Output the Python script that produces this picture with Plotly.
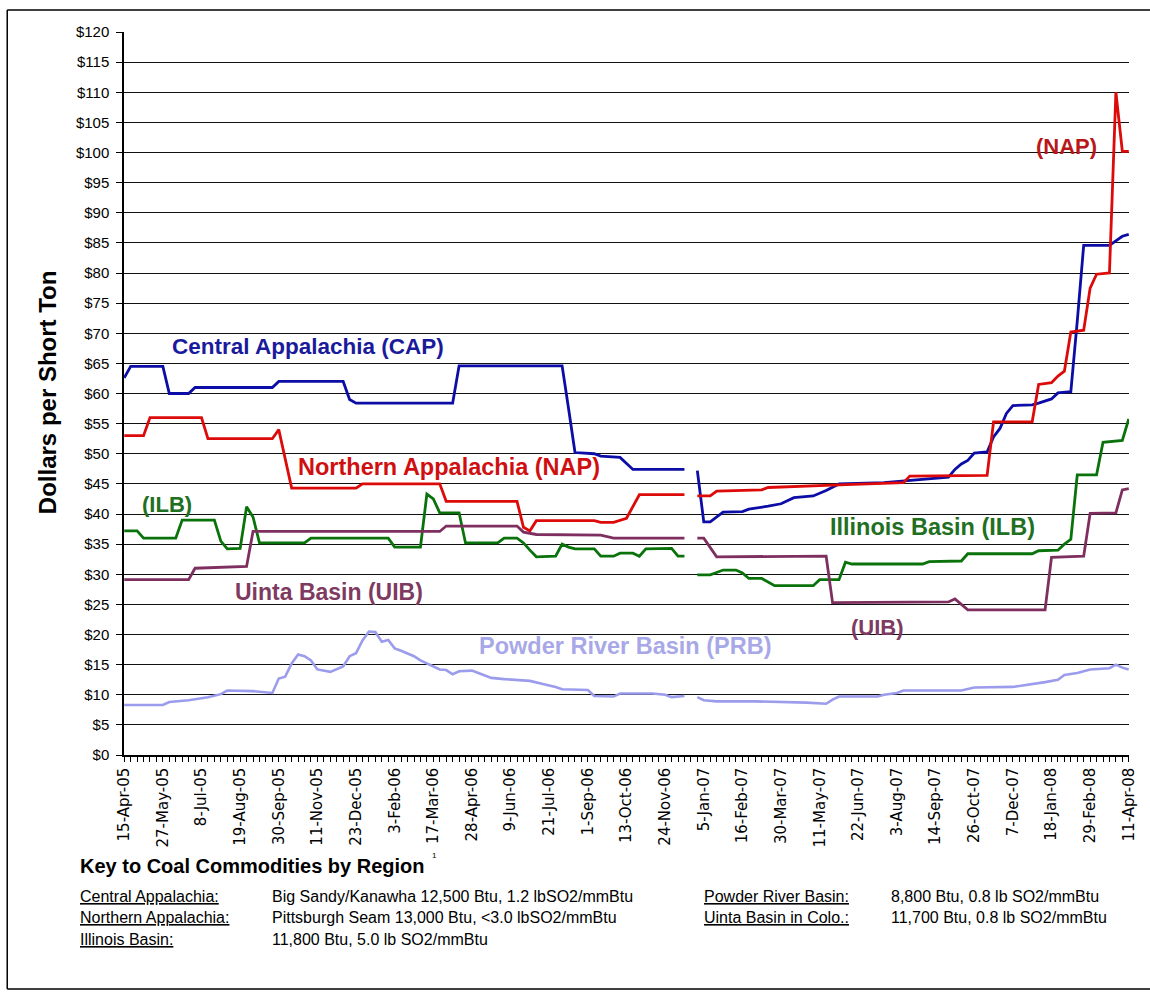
import pandas as pd
import plotly.graph_objects as go

# ---- categories: weekly price dates ----
weeks = pd.date_range("2005-04-15", periods=157, freq="7D")

# ---- series: (week index, $/short ton) vertices ----
cap_wk = [0, 1, 6, 7, 10, 11, 23, 24, 34, 35, 36, 51, 52, 68, 69, 70, 73, 74, 77, 79,
          87, 88, 89, 90, 91, 93, 96, 97, 100, 102, 104, 107, 109, 111, 118, 122, 128, 129, 130, 131,
          132, 134, 135, 136, 137, 138, 141, 142, 144, 145, 147, 148, 149, 153, 154, 155, 156]
cap_val = [62.6, 64.5, 64.5, 60.0, 60.0, 61.0, 61.0, 62.0, 62.0, 59.0, 58.4, 58.4, 64.6, 64.6, 57.5, 50.2, 50.0, 49.6, 49.4, 47.4,
           47.4, None, 47.2, 38.7, 38.7, 40.3, 40.4, 40.8, 41.3, 41.7, 42.7, 43.0, 43.9, 45.0, 45.2, 45.6, 46.1, 47.4, 48.3, 48.9,
           50.1, 50.3, 52.8, 54.2, 56.7, 58.0, 58.1, 58.4, 59.1, 60.1, 60.3, 72.0, 84.6, 84.6, 85.4, 86.1, 86.4]

nap_wk = [0, 3, 4, 12, 13, 23, 24, 26, 36, 37, 49, 50, 61, 62, 63, 64, 73, 74, 76, 77,
          78, 80, 87, 88, 89, 91, 92, 99, 100, 104, 110, 121, 122, 134, 135, 141, 142, 144, 145, 146,
          147, 149, 150, 151, 153, 154, 155, 156]
nap_val = [53.0, 53.0, 56.0, 56.0, 52.5, 52.5, 54.0, 44.3, 44.3, 45.0, 45.0, 42.1, 42.1, 37.8, 37.2, 38.9, 38.9, 38.6, 38.6, 39.0,
           39.3, 43.2, 43.2, None, 43.0, 43.0, 43.8, 44.0, 44.4, 44.6, 44.8, 45.2, 46.3, 46.4, 55.3, 55.3, 61.5, 61.8, 62.9, 63.7,
           70.2, 70.5, 77.5, 79.8, 80.0, 110.0, 100.2, 100.2]

ilb_wk = [0, 2, 3, 8, 9, 14, 15, 16, 18, 19, 20, 21, 28, 29, 41, 42, 46, 47, 48, 49,
          52, 53, 58, 59, 61, 62, 63, 64, 67, 68, 69, 70, 73, 74, 76, 77, 79, 80, 81, 85,
          86, 87, 88, 89, 91, 92, 93, 95, 96, 97, 99, 101, 107, 108, 111, 112, 113, 124, 125, 130,
          131, 141, 142, 145, 146, 147, 148, 151, 152, 155, 156]
ilb_val = [37.2, 37.2, 36.0, 36.0, 39.0, 39.0, 35.5, 34.2, 34.3, 41.2, 39.5, 35.2, 35.2, 36.0, 36.0, 34.5, 34.5, 43.3, 42.5, 40.2,
           40.2, 35.2, 35.2, 36.0, 36.0, 35.2, 34.0, 32.9, 33.0, 35.0, 34.5, 34.2, 34.2, 33.0, 33.0, 33.5, 33.5, 33.0, 34.2, 34.3,
           33.0, 33.0, None, 29.9, 29.9, 30.3, 30.7, 30.7, 30.2, 29.3, 29.3, 28.1, 28.1, 29.1, 29.1, 32.0, 31.7, 31.7, 32.1, 32.2,
           33.4, 33.4, 33.9, 34.0, 35.0, 35.8, 46.5, 46.5, 51.9, 52.2, 55.8]

uib_wk = [0, 10, 11, 19, 20, 49, 50, 61, 62, 64, 74, 76, 87, 88, 89, 90, 92, 109, 110, 128,
          129, 131, 143, 144, 149, 150, 154, 155, 156]
uib_val = [29.1, 29.1, 31.0, 31.3, 37.1, 37.1, 38.0, 38.0, 37.0, 36.6, 36.5, 36.0, 36.0, None, 36.0, 36.0, 32.9, 33.0, 25.3, 25.4,
           25.9, 24.1, 24.1, 32.8, 33.0, 40.1, 40.2, 44.0, 44.2]

prb_wk = [0, 6, 7, 10, 13, 15, 16, 20, 23, 24, 25, 26, 27, 28, 29, 30, 32, 33, 34, 35,
          36, 37, 38, 39, 40, 41, 42, 43, 45, 46, 48, 49, 50, 51, 52, 54, 55, 57, 59, 61,
          63, 65, 67, 68, 72, 73, 76, 77, 82, 84, 85, 87, 88, 89, 90, 92, 98, 106, 109, 110,
          111, 117, 118, 120, 121, 130, 132, 138, 140, 143, 145, 146, 148, 150, 153, 154, 155, 156]
prb_val = [8.3, 8.3, 8.8, 9.1, 9.6, 10.1, 10.7, 10.6, 10.3, 12.7, 13.0, 15.2, 16.7, 16.4, 15.7, 14.2, 13.8, 14.2, 14.7, 16.4,
           16.9, 19.0, 20.5, 20.4, 18.8, 19.1, 17.7, 17.3, 16.4, 15.7, 14.7, 14.2, 14.1, 13.4, 13.9, 14.0, 13.6, 12.8, 12.6, 12.5,
           12.3, 11.8, 11.3, 10.9, 10.8, 9.8, 9.7, 10.2, 10.2, 10.0, 9.6, 9.8, None, 9.6, 9.1, 8.9, 8.9, 8.7, 8.5, 9.2,
           9.7, 9.7, 10.0, 10.3, 10.7, 10.7, 11.2, 11.3, 11.6, 12.1, 12.5, 13.3, 13.6, 14.2, 14.4, 15.0, 14.5, 14.2]

series = [
    ("CAP", cap_wk, cap_val, "#0c0ca6", 2.8),
    ("NAP", nap_wk, nap_val, "#dd0a0a", 2.8),
    ("ILB", ilb_wk, ilb_val, "#0a720a", 2.8),
    ("UIB", uib_wk, uib_val, "#7e2f60", 2.8),
    ("PRB", prb_wk, prb_val, "#9c9cec", 2.6),
]

fig = go.Figure()
for name, wk, val, color, w in series:
    fig.add_trace(go.Scatter(
        x=[weeks[k] for k in wk], y=val, mode="lines", name=name,
        line=dict(color=color, width=w), showlegend=False, hoverinfo="skip",
        connectgaps=False))

# ---- geometry helpers (pixel -> paper) ----
L, R, T, B = 124, 1131, 32, 755
def px(x):
    return (x - L) / (R - L)
def py(y):
    return (B - y) / (B - T)

ARIAL = "Liberation Sans, Arial, sans-serif"

annos = []
def label(text, x, y, color, size=22, family=ARIAL, bold=True, xanchor="left", angle=0, under=False):
    f = dict(family=family, size=size, color=color)
    if under:
        f["lineposition"] = "under"
    annos.append(dict(
        text=("<b>%s</b>" % text) if bold else text,
        x=px(x), y=py(y), xref="paper", yref="paper",
        xanchor=xanchor, yanchor="middle", showarrow=False, borderpad=0,
        textangle=angle, font=f))

# series labels
label("Central Appalachia (CAP)", 171, 346, "#1a1a9c", size=22.5)
label("Northern Appalachia (NAP)", 297, 467, "#d01010", size=23.5)
label("(ILB)", 141, 504, "#217021", size=22)
label("Uinta Basin (UIB)", 234, 592, "#7e3a60", size=23)
label("Powder River Basin (PRB)", 479, 646, "#a8a8e8", size=23.5)
label("Illinois Basin (ILB)", 830, 527, "#217021", size=23.5)
label("(UIB)", 851, 627, "#7e3a60", size=22)
label("(NAP)", 1037, 146, "#b81818", size=22)

# y-axis title
label("Dollars per Short Ton", 47, 392, "black", size=24, xanchor="center", angle=-90)

# key
label("Key to Coal Commodities by Region", 79, 866, "black", size=20)
label("1", 432, 855, "black", size=8, bold=False)
rows = [
    (896, "Central Appalachia:", "Big Sandy/Kanawha 12,500 Btu, 1.2 lbSO2/mmBtu",
     "Powder River Basin:", "8,800 Btu, 0.8 lb SO2/mmBtu"),
    (917, "Northern Appalachia:", "Pittsburgh Seam 13,000 Btu, &lt;3.0 lbSO2/mmBtu",
     "Uinta Basin in Colo.:", "11,700 Btu, 0.8 lb SO2/mmBtu"),
    (939, "Illinois Basin:", "11,800 Btu, 5.0 lb SO2/mmBtu", None, None),
]
for y, a, b, c, d in rows:
    label(a, 79, y, "black", size=16, bold=False, under=True)
    label(b, 271, y, "black", size=16, bold=False)
    if c:
        label(c, 704, y, "black", size=16, bold=False, under=True)
        label(d, 892, y, "black", size=16, bold=False)

# outer border
shapes = []
for (x0, y0, x1, y1) in [(7, 10, 7, 989), (7, 10, 1160, 10), (7, 989, 1160, 989)]:
    shapes.append(dict(type="line", xref="paper", yref="paper",
                       x0=px(x0), y0=py(y0), x1=px(x1), y1=py(y1),
                       line=dict(color="black", width=1.5)))

DAY = 86400000
fig.update_layout(
    width=1150, height=992,
    margin=dict(l=L, r=1150 - R, t=T, b=992 - B, pad=0),
    paper_bgcolor="white", plot_bgcolor="white",
    annotations=annos, shapes=shapes,
    xaxis=dict(
        type="date",
        range=[weeks[0] - pd.Timedelta(hours=6), weeks[-1] + pd.Timedelta(hours=6)],
        tick0=weeks[0], dtick=42 * DAY, tickformat="%-d-%b-%y", tickangle=-90,
        ticks="outside", ticklen=5, tickwidth=1, tickcolor="black",
        showline=True, linecolor="black", linewidth=1.5, showgrid=False, zeroline=False,
        tickfont=dict(family="DejaVu Sans, sans-serif", size=15, color="black"),
        minor=dict(tick0=weeks[0], dtick=7 * DAY, ticks="outside", ticklen=5,
                   tickwidth=1, tickcolor="black", showgrid=False),
    ),
    yaxis=dict(
        range=[0, 120], tick0=0, dtick=5, tickprefix="$",
        ticks="outside", ticklen=6, tickcolor="black", tickwidth=1.3,
        showline=True, linecolor="black", linewidth=1.5, ticklabelstandoff=4,
        showgrid=True, gridcolor="#111111", gridwidth=1.3, zeroline=False,
        tickfont=dict(family=ARIAL, size=15, color="black"),
    ),
)

fig.write_html("out.html")
